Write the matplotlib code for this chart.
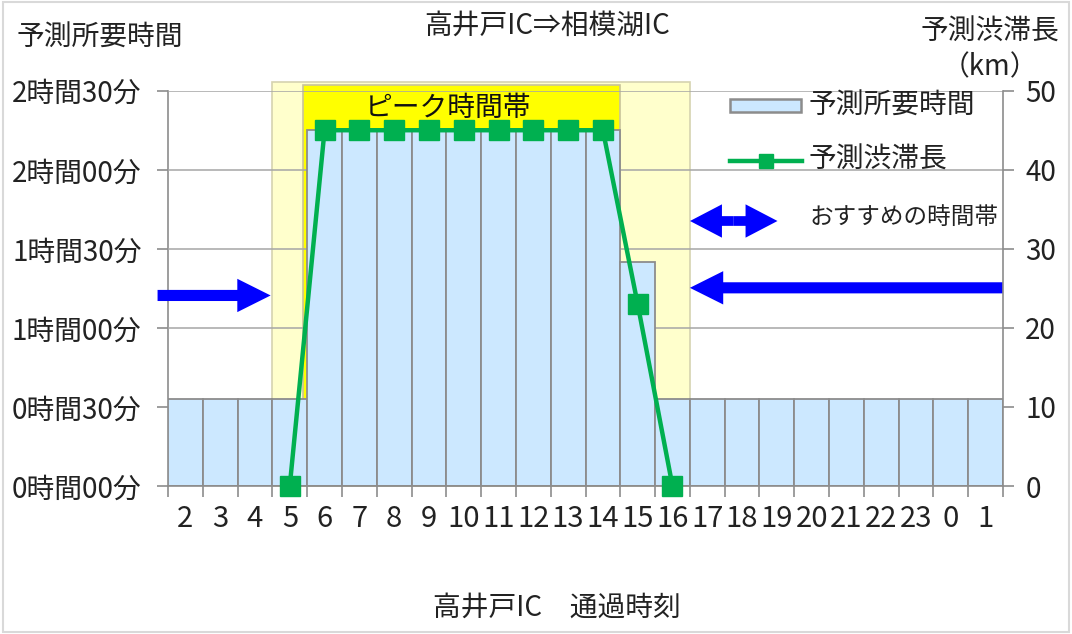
import numpy as np
import matplotlib
matplotlib.use("Agg")
import matplotlib.pyplot as plt
from matplotlib.patches import Rectangle
from matplotlib.lines import Line2D

plt.rcParams['font.family'] = ['Noto Sans CJK JP', 'DejaVu Sans']

# ---- data ----
hours = ['2', '3', '4', '5', '6', '7', '8', '9', '10', '11', '12', '13', '14',
         '15', '16', '17', '18', '19', '20', '21', '22', '23', '0', '1']
travel_min = [33, 33, 33, 33, 135, 135, 135, 135, 135, 135, 135, 135, 135,
              85, 33, 33, 33, 33, 33, 33, 33, 33, 33, 33]
jam_km = [np.nan, np.nan, np.nan, 0, 45, 45, 45, 45, 45, 45, 45, 45, 45,
          23, 0, np.nan, np.nan, np.nan, np.nan, np.nan, np.nan, np.nan, np.nan, np.nan]
left_ticks_min = [0, 30, 60, 90, 120, 150]
left_tick_labels = ['0時間00分', '0時間30分', '1時間00分', '1時間30分', '2時間00分', '2時間30分']
right_ticks_km = [0, 10, 20, 30, 40, 50]
peak_hours = ['6', '14']
recommended_edge_hours = ['5', '16']

title = '高井戸IC⇒相模湖IC'
xlabel = '高井戸IC　通過時刻'
ylabel_left = '予測所要時間'
ylabel_right = '予測渋滞長'
ylabel_right_unit = '（km）'
legend_bar = '予測所要時間'
legend_line = '予測渋滞長'
legend_arrow = 'おすすめの時間帯'
peak_text = 'ピーク時間帯'

# ---- figure ----
W, H = 1072, 634
fig = plt.figure(figsize=(W / 100, H / 100), dpi=100)
L, R, T, B = 168, 1003, 90.7, 486
ax = fig.add_axes([L / W, 1 - B / H, (R - L) / W, (B - T) / H])
x = np.arange(len(hours))
ax.set_xlim(-0.5, len(hours) - 0.5)
ax.set_ylim(0, 150)

blue_fill = '#CCE8FF'
bar_edge = '#8C8C8C'
green = '#00B050'
grid_c = '#A6A6A6'
arrow_blue = '#0000FF'
txt_c = '#222222'
FS = 20

# recommended (pale) and peak (bright) bands
r0 = hours.index(recommended_edge_hours[0]) - 0.5
r1 = hours.index(recommended_edge_hours[1]) + 0.5
ax.add_patch(Rectangle((r0, 0), r1 - r0, 153.2, facecolor='#FFFFCC',
                       edgecolor='#D6D3B0', lw=1.2, zorder=0.5, clip_on=False))
p0 = hours.index(peak_hours[0]) - 0.62
p1 = hours.index(peak_hours[1]) + 0.5
ax.add_patch(Rectangle((p0, 0), p1 - p0, 152.0, facecolor='#FFFF00',
                       edgecolor='#C8C49A', lw=1.2, zorder=2, clip_on=False))

ax.set_yticks(left_ticks_min)
ax.set_yticklabels(left_tick_labels)
ax.yaxis.grid(True, color=grid_c, lw=1.1, zorder=1)
ax.set_axisbelow(False)
for gl in ax.get_ygridlines():
    gl.set_zorder(1)

ax.bar(x, travel_min, width=1.0, color=blue_fill, edgecolor=bar_edge, lw=1.3, zorder=3)

ax.set_xticks(x)
ax.set_xticklabels(hours)
ax.set_xticks(np.arange(-0.5, len(hours), 1.0), minor=True)
ax.tick_params(axis='x', which='major', length=0, pad=13, labelsize=21, colors=txt_c)
ax.tick_params(axis='x', which='minor', length=8, color=bar_edge, width=1.2)
ax.tick_params(axis='y', length=8, color=bar_edge, width=1.2, pad=11, labelsize=FS,
               labelcolor=txt_c)
for s in ['top', 'right']:
    ax.spines[s].set_visible(False)
ax.spines['left'].set_color(bar_edge)
ax.spines['bottom'].set_color(bar_edge)
ax.spines['left'].set_linewidth(1.2)
ax.spines['bottom'].set_linewidth(1.2)
ax.spines['bottom'].set_zorder(4)

ax.text(7.55, 143.6, peak_text, ha='center', va='center', fontsize=FS,
        color='#111111', zorder=2.5)

# right axis
ax2 = ax.twinx()
ax2.set_ylim(0, 50)
ax2.set_yticks(right_ticks_km)
ax2.tick_params(axis='y', length=8, color=bar_edge, width=1.2, pad=8, labelsize=FS,
                labelcolor=txt_c)
for s in ['top', 'left', 'bottom']:
    ax2.spines[s].set_visible(False)
ax2.spines['right'].set_color(bar_edge)
ax2.spines['right'].set_linewidth(1.2)
ax2.plot(x, jam_km, color=green, lw=3.2, marker='s', markersize=15,
         markerfacecolor=green, markeredgecolor=green, clip_on=False, zorder=5)

# legend (manual)
def px(xp):
    return (xp - L) / (R - L)
def py(yp):
    return (B - yp) / (B - T)

ax.add_patch(Rectangle((px(717), py(196)), px(995) - px(717), py(84) - py(196),
                       transform=ax.transAxes, facecolor='white', edgecolor='none',
                       zorder=1.5, clip_on=False))
ax.add_patch(Rectangle((px(730), py(112)), px(801) - px(730), py(99) - py(112),
                       transform=ax.transAxes, facecolor=blue_fill, edgecolor=bar_edge,
                       lw=1.8, zorder=6, clip_on=False))
ax.text(px(809), py(106), legend_bar, transform=ax.transAxes, ha='left', va='center',
        fontsize=FS, color=txt_c, zorder=6)
ax.add_line(Line2D([px(730), px(802)], [py(160.5), py(160.5)], transform=ax.transAxes,
                   color=green, lw=3.2, marker=None, zorder=6, clip_on=False))
ax.add_line(Line2D([px(766)], [py(160.5)], transform=ax.transAxes, color=green,
                   marker='s', markersize=10, zorder=6, clip_on=False))
ax.text(px(809), py(160), legend_line, transform=ax.transAxes, ha='left', va='center',
        fontsize=FS, color=txt_c, zorder=6)

arrow_style = 'simple,head_length=24,head_width=24,tail_width=8'
mid = (px(690) + px(777.5)) / 2
for end in (px(690), px(777.5)):
    ax.annotate('', xy=(end, py(221)), xytext=(mid, py(221)), xycoords='axes fraction',
                textcoords='axes fraction',
                arrowprops=dict(arrowstyle='simple,head_length=23,head_width=24,tail_width=7',
                                mutation_scale=1, color=arrow_blue, shrinkA=0, shrinkB=0,
                                lw=0), zorder=6, annotation_clip=False)
ax.text(px(810), py(217), legend_arrow, transform=ax.transAxes, ha='left', va='center',
        fontsize=17, color=txt_c, zorder=6)

# recommended-time arrows
ax.annotate('', xy=(r0 - 0.05, 72.3), xytext=(-0.8, 72.3), xycoords='data',
            arrowprops=dict(arrowstyle=arrow_style, mutation_scale=1, color=arrow_blue,
                            shrinkA=0, shrinkB=0, lw=0), zorder=6, annotation_clip=False)
ax.annotate('', xy=(r1, 75.2), xytext=(len(hours) - 0.5, 75.2), xycoords='data',
            arrowprops=dict(arrowstyle=arrow_style, mutation_scale=1, color=arrow_blue,
                            shrinkA=0, shrinkB=0, lw=0), zorder=6, annotation_clip=False)

# titles
fig.text(547 / W, 1 - 26 / H, title, ha='center', va='center', fontsize=FS, color=txt_c)
fig.text(100 / W, 1 - 38 / H, ylabel_left, ha='center', va='center', fontsize=FS, color=txt_c)
fig.text(990 / W, 1 - 32 / H, ylabel_right, ha='center', va='center', fontsize=FS, color=txt_c)
fig.text(990 / W, 1 - 67 / H, ylabel_right_unit, ha='center', va='center', fontsize=FS, color=txt_c)
fig.text(557 / W, 1 - 608 / H, xlabel, ha='center', va='center', fontsize=FS, color=txt_c)

# outer frame
fig.add_artist(Rectangle((0.003, 0.003), 0.994, 0.994, transform=fig.transFigure,
                         facecolor='none', edgecolor='#D9D9D9', lw=1.5))

fig.savefig('out.png', dpi=100)
